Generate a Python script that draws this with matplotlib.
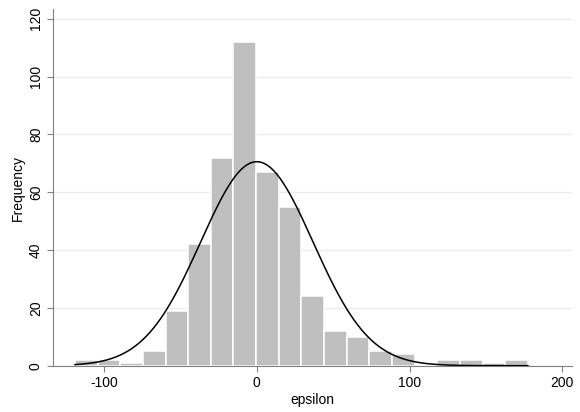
import numpy as np
import matplotlib
matplotlib.use("Agg")
import matplotlib.pyplot as plt

# Data
bin_start = -119.1
bin_width = 14.83
counts = [2, 2, 1, 5, 19, 42, 72, 112, 67, 55, 24, 12, 10, 5, 4, 0, 2, 2, 1, 2]
xticks = [-100, 0, 100, 200]
yticks = [0, 20, 40, 60, 80, 100, 120]
# normal overlay parameters
mu = 0.0
sigma = 36.8

plt.rcParams['font.family'] = ['Liberation Sans', 'DejaVu Sans']
plt.rcParams['axes.unicode_minus'] = False

fig = plt.figure(figsize=(5.8, 4.12), dpi=100)
ax = fig.add_axes([0.0919, 0.1124, 0.8943, 0.865])

n = len(counts)
edges = bin_start + bin_width * np.arange(n + 1)
lefts = edges[:-1]
ax.bar(lefts, counts, width=bin_width, align='edge', color='#bfbfbf',
       edgecolor='white', linewidth=1.1, zorder=2)

N = sum(counts)
xs = np.linspace(edges[0], edges[-1], 400)
ys = N * bin_width / (sigma * np.sqrt(2 * np.pi)) * np.exp(-0.5 * ((xs - mu) / sigma) ** 2)
ax.plot(xs, ys, color='black', linewidth=1.1, zorder=3)

ax.set_xlim(-133.3, 206.4)
ax.set_ylim(0, 123.3)
ax.set_xticks(xticks)
ax.set_yticks(yticks)
ax.set_yticklabels([str(v) for v in yticks], rotation=90, va='center')
ax.grid(axis='y', color='#ececec', linewidth=1.0, zorder=0)
ax.set_axisbelow(True)

for s in ['top', 'right']:
    ax.spines[s].set_visible(False)
for s in ['left', 'bottom']:
    ax.spines[s].set_color('#808080')
    ax.spines[s].set_linewidth(0.8)
ax.tick_params(axis='both', colors='#808080', length=4, width=0.8,
               labelcolor='black', labelsize=10)
ax.set_xlabel('epsilon', fontsize=10, labelpad=2)
ax.set_ylabel('Frequency', fontsize=10, labelpad=3)

fig.savefig('out.png', dpi=100, facecolor='white')
